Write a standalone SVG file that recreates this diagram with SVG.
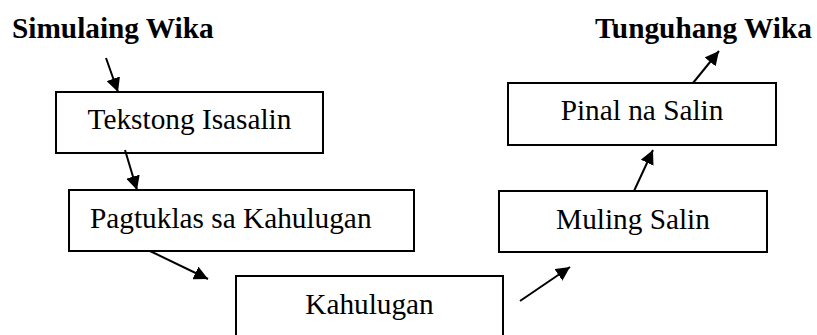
<svg xmlns="http://www.w3.org/2000/svg" width="817" height="335" viewBox="0 0 817 335">
<style>
.box{fill:#fff;stroke:#000;stroke-width:2}
.t{font-family:"Liberation Serif","Times New Roman",serif;font-size:29.3px;fill:#000}
.b{font-family:"Liberation Serif","Times New Roman",serif;font-size:29.3px;font-weight:bold;fill:#000}
.c{stroke:#000;stroke-width:2;fill:none;marker-end:url(#ah)}
</style>
<defs>
<marker id="ah" markerUnits="userSpaceOnUse" markerWidth="16" markerHeight="14" refX="14" refY="7" orient="auto">
<path d="M0,0 L14,7 L0,14 Z" fill="#000"/>
</marker>
</defs>
<rect width="817" height="335" fill="#fff"/>
<g id="label-source"><text class="b" x="12" y="38">Simulaing Wika</text></g>
<g id="label-target"><text class="b" x="595" y="38">Tunguhang Wika</text></g>
<g id="n-tekstong"><rect class="box" x="56" y="92" width="267" height="61"/><text class="t" x="189.5" y="129" text-anchor="middle">Tekstong Isasalin</text></g>
<g id="n-pagtuklas"><rect class="box" x="69" y="190" width="345" height="61"/><text class="t" x="90" y="228">Pagtuklas sa Kahulugan</text></g>
<g id="n-kahulugan"><rect class="box" x="236" y="276" width="267" height="70"/><text class="t" x="369.5" y="314" text-anchor="middle">Kahulugan</text></g>
<g id="n-muling"><rect class="box" x="499" y="191" width="268" height="61"/><text class="t" x="633" y="229" text-anchor="middle">Muling Salin</text></g>
<g id="n-pinal"><rect class="box" x="508" y="83" width="268" height="62"/><text class="t" x="642" y="120" text-anchor="middle">Pinal na Salin</text></g>
<g id="connectors">
<line class="c" x1="106" y1="58" x2="118" y2="92"/>
<line class="c" x1="125" y1="150" x2="137" y2="190"/>
<line class="c" x1="150" y1="251" x2="208" y2="279"/>
<line class="c" x1="520" y1="301" x2="570" y2="267"/>
<line class="c" x1="634" y1="191" x2="653" y2="150"/>
<line class="c" x1="693" y1="83" x2="719" y2="51"/>
</g>
</svg>
